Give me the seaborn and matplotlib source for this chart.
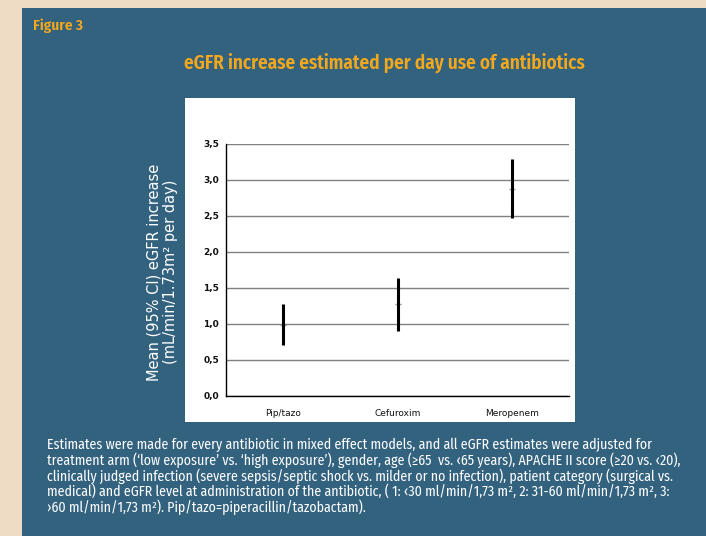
import matplotlib
matplotlib.use("Agg")
import matplotlib.pyplot as plt
from matplotlib.patches import Rectangle
import seaborn as sns
import pandas as pd

BEIGE = "#EEDCC5"
BLUE = "#33627F"
ORANGE = "#F5A81C"

antibiotics = ["Pip/tazo", "Cefuroxim", "Meropenem"]
mean_increase = [0.99, 1.27, 2.87]
ci_low = [0.71, 0.90, 2.47]
ci_high = [1.28, 1.64, 3.29]
y_ticks = [0.0, 0.5, 1.0, 1.5, 2.0, 2.5, 3.0, 3.5]

caption_lines = [
    "Estimates were made for every antibiotic in mixed effect models, and all eGFR estimates were adjusted for",
    "treatment arm (\u2018low exposure\u2019 vs. \u2018high exposure\u2019), gender, age (\u226565  vs. \u203965 years), APACHE II score (\u226520 vs. \u203920),",
    "clinically judged infection (severe sepsis/septic shock vs. milder or no infection), patient category (surgical vs.",
    "medical) and eGFR level at administration of the antibiotic, ( 1: \u203930 ml/min/1,73 m\u00b2, 2: 31-60 ml/min/1,73 m\u00b2, 3:",
    "\u203a60 ml/min/1,73 m\u00b2). Pip/tazo=piperacillin/tazobactam).",
]

df = pd.DataFrame({"antibiotic": antibiotics, "mean": mean_increase,
                   "low": ci_low, "high": ci_high})

sns.set_style("white")
plt.rcParams["font.family"] = ["DejaVu Sans"]
narrow = ["Fira Sans Condensed", "DejaVu Sans"]

fig = plt.figure(figsize=(7.06, 5.36), dpi=100)
fig.patch.set_facecolor(BEIGE)

# blue panel and white chart area
fig.add_artist(Rectangle((22 / 706, 0), 1, 528 / 536, transform=fig.transFigure,
                         facecolor=BLUE, edgecolor="none", zorder=0))
fig.add_artist(Rectangle((185 / 706, 114 / 536), 390 / 706, 324 / 536,
                         transform=fig.transFigure, facecolor="white",
                         edgecolor="none", zorder=0.5))

ax = fig.add_axes([226 / 706, 140 / 536, 343 / 706, 252.5 / 536])
ax.set_facecolor("white")
ax.set_zorder(1)

# mean markers sit just under the CI bars, peeking out on the side
sns.scatterplot(data=df, x="antibiotic", y="mean", ax=ax, marker="_", s=25,
                color="#9a9a9a", linewidth=1.0, zorder=2, legend=False)
ax.vlines(range(len(antibiotics)), df["low"], df["high"], color="black",
          linewidth=2.2, zorder=3)

ax.set_xlim(-0.5, 2.5)
ax.set_ylim(0, 3.5)
ax.set_yticks(y_ticks)
ax.set_yticklabels([f"{v:.1f}".replace(".", ",") for v in y_ticks],
                   fontsize=6.5, fontweight="bold", color="#111111")
ax.set_xticks(range(len(antibiotics)))
ax.set_xticklabels(antibiotics, fontsize=6.5, color="#111111")
ax.set_xticks([0.5, 1.5, 2.5], minor=True)
ax.tick_params(axis="x", which="major", length=0, pad=9)
ax.tick_params(axis="x", which="minor", length=6, width=0.8, direction="inout",
               color="black")
ax.tick_params(axis="y", length=3, width=0.8, direction="out", color="black", pad=2)
ax.yaxis.grid(True, color="#808080", linewidth=1.0)
ax.set_axisbelow(True)
for side in ["top", "right"]:
    ax.spines[side].set_visible(False)
ax.spines["left"].set_color("black")
ax.spines["bottom"].set_color("black")
ax.spines["left"].set_linewidth(1.0)
ax.spines["bottom"].set_linewidth(1.0)
ax.set_xlabel("")
ax.set_ylabel("")

fig.text(162 / 706, 1 - 272 / 536,
         "Mean (95% CI) eGFR increase\n(mL/min/1.73m\u00b2 per day)",
         rotation=90, ha="center", va="center", color="white", fontsize=10.5,
         linespacing=1.1)

fig.text(33 / 706, 1 - 26 / 536, "Figure 3", color=ORANGE, fontsize=11,
         fontweight="semibold", family=narrow, ha="left", va="center")
fig.text(384 / 706, 1 - 63 / 536,
         "eGFR increase estimated per day use of antibiotics", color=ORANGE,
         fontsize=13.8, fontweight="semibold", family=narrow, ha="center",
         va="center")

for i, line in enumerate(caption_lines):
    fig.text(47 / 706, 1 - (445 + i * 15.5) / 536, line, color="white",
             fontsize=10, family=narrow, ha="left", va="center")

fig.savefig("out.png", dpi=100, facecolor=BEIGE)
